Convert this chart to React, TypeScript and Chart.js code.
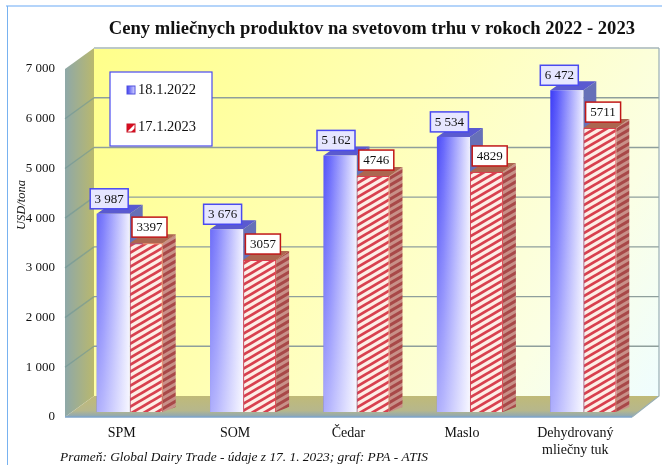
import React, { useEffect, useRef } from "react";
import { Chart, registerables } from "chart.js";

Chart.register(...registerables);

const categories: (string | string[])[] = ["SPM", "SOM", "Čedar", "Maslo", ["Dehydrovaný", "mliečny tuk"]];
const values2022 = [3987, 3676, 5162, 5534, 6472];
const values2023 = [3397, 3057, 4746, 4829, 5711];
const seriesNames = ["18.1.2022", "17.1.2023"];
const yTicks = [0, 1000, 2000, 3000, 4000, 5000, 6000, 7000];
const titleText = "Ceny mliečnych produktov na svetovom trhu v rokoch 2022 - 2023";
const yTitle = "USD/tona";
const sourceText = "Prameň: Global Dairy Trade - údaje z 17. 1. 2023; graf: PPA - ATIS";

const SERIF = "'Liberation Serif', 'Times New Roman', serif";
const WALL_DX = 29;
const WALL_DY = -21;
const BAR_DX = 8;
const BAR_DY = -5;
const SIDE_DX = 13;
const SIDE_DY = -9;

const spaced = (v: number) => String(v).replace(/\B(?=(\d{3})+$)/g, " ");

function hatch(bg: string, fg: string, lw: number): CanvasPattern {
  const tile = document.createElement("canvas");
  tile.width = 12;
  tile.height = 7;
  const t = tile.getContext("2d")!;
  t.fillStyle = bg;
  t.fillRect(0, 0, 12, 7);
  t.strokeStyle = fg;
  t.lineWidth = lw;
  for (let c = -7; c <= 21; c += 7) {
    t.beginPath();
    t.moveTo(-12, c + 7);
    t.lineTo(24, c - 14);
    t.stroke();
  }
  return t.createPattern(tile, "repeat")!;
}

function poly(ctx: CanvasRenderingContext2D, pts: number[][], fill: any) {
  ctx.beginPath();
  pts.forEach(([x, y], i) => (i ? ctx.lineTo(x, y) : ctx.moveTo(x, y)));
  ctx.closePath();
  ctx.fillStyle = fill;
  ctx.fill();
}

function drawDepth(ctx: CanvasRenderingContext2D, meta: any, side: any, cap: any) {
  meta.data.forEach((bar: any) => {
    const r = bar.x + bar.width / 2;
    const l = bar.x - bar.width / 2;
    poly(ctx, [[r, bar.y], [r + SIDE_DX, bar.y + SIDE_DY], [r + SIDE_DX, bar.base + SIDE_DY + 4], [r, bar.base]], side);
    poly(ctx, [[l, bar.y], [l + SIDE_DX, bar.y + SIDE_DY], [r + SIDE_DX, bar.y + SIDE_DY], [r, bar.y]], cap);
  });
}

const scene = {
  id: "scene",
  afterLayout(chart: any) {
    if (chart.titleBlock) {
      chart.titleBlock.left += 3;
      chart.titleBlock.right += 3;
    }
  },
  beforeDraw(chart: any) {
    const ctx: CanvasRenderingContext2D = chart.ctx;
    const { left, right, top, bottom } = chart.chartArea;
    const y = chart.scales.y;
    const bl = left + WALL_DX;
    const br = right + WALL_DX - 2;
    const bt = top + WALL_DY;
    const bb = bottom + WALL_DY;
    ctx.save();
    // outer frame
    ctx.fillStyle = "#b4d4fa";
    ctx.fillRect(6, 5, 656, 2);
    ctx.fillStyle = "#78b2f0";
    ctx.fillRect(7, 6, 1, 459);

    // back wall
    const back = ctx.createLinearGradient(bl, bt, br, bb);
    back.addColorStop(0, "#ffff8a");
    back.addColorStop(0.45, "#ffffb8");
    back.addColorStop(0.8, "#fbffe4");
    back.addColorStop(1, "#effdff");
    ctx.fillStyle = back;
    ctx.fillRect(bl, bt, br - bl, bb - bt);

    // left wall
    const wall = ctx.createLinearGradient(left, 0, bl, 0);
    wall.addColorStop(0, "#8ea8a8");
    wall.addColorStop(1, "#b9b86e");
    poly(ctx, [[left, top], [bl, bt], [bl, bb], [left, bottom]], wall);

    // floor
    const floor = ctx.createLinearGradient(0, bb, 0, bottom);
    floor.addColorStop(0, "#c0ba78");
    floor.addColorStop(0.7, "#b6b78c");
    floor.addColorStop(1, "#8aa6b8");
    poly(ctx, [[left, bottom], [bl, bb], [br, bb], [right, bottom]], floor);

    // gridlines
    yTicks.forEach((v) => {
      if (v === 0) return;
      const py = y.getPixelForValue(v);
      ctx.lineWidth = v === 7000 ? 2 : 1.4;
      ctx.strokeStyle = v === 7000 ? "#bcc8c8" : "#8f9f9c";
      ctx.beginPath();
      ctx.moveTo(bl, py + WALL_DY);
      ctx.lineTo(br, py + WALL_DY);
      ctx.stroke();
      if (v !== 7000) {
        ctx.strokeStyle = "rgba(110,150,150,0.6)";
        ctx.beginPath();
        ctx.moveTo(left, py);
        ctx.lineTo(bl, py + WALL_DY);
        ctx.stroke();
      }
    });
    ctx.strokeStyle = "#98aeb4";
    ctx.lineWidth = 1.2;
    ctx.beginPath();
    ctx.moveTo(br, bt);
    ctx.lineTo(br, bb);
    ctx.lineTo(right, bottom);
    ctx.stroke();
    ctx.strokeStyle = "#7fa4c8";
    ctx.lineWidth = 1.5;
    ctx.beginPath();
    ctx.moveTo(left, bottom);
    ctx.lineTo(right, bottom);
    ctx.stroke();
    ctx.restore();
  },
  beforeDatasetsDraw(chart: any) {
    chart.ctx.save();
    chart.ctx.translate(BAR_DX, BAR_DY);
  },
  beforeDatasetDraw(chart: any, args: any) {
    // Datasets paint last-to-first: the red one goes down first, so both depth faces are laid here.
    if (args.index !== 1) return;
    const ctx: CanvasRenderingContext2D = chart.ctx;
    drawDepth(ctx, chart.getDatasetMeta(0), "#6670b8", "#5a5ad0");
    drawDepth(ctx, args.meta, hatch("#c89088", "#a84848", 3), "#ac6650");
  },
  afterDatasetDraw(chart: any, args: any) {
    if (args.index !== 0) return;
    const ctx: CanvasRenderingContext2D = chart.ctx;
    const { top, bottom } = chart.chartArea;
    const g = ctx.createLinearGradient(0, top, 0, bottom);
    g.addColorStop(0, "rgba(255,255,255,0)");
    g.addColorStop(1, "rgba(255,255,255,0.6)");
    ctx.fillStyle = g;
    args.meta.data.forEach((bar: any) => {
      ctx.fillRect(bar.x - bar.width / 2, bar.y, bar.width, bar.base - bar.y);
    });
  },
  afterDatasetsDraw(chart: any) {
    const ctx: CanvasRenderingContext2D = chart.ctx;
    ctx.restore();
    ctx.save();
    ctx.textAlign = "center";
    ctx.textBaseline = "middle";
    ctx.font = `13px ${SERIF}`;
    ctx.lineWidth = 1.5;
    chart.data.datasets.forEach((ds: any, di: number) => {
      chart.getDatasetMeta(di).data.forEach((bar: any, i: number) => {
        const blue = di === 0;
        const w = blue ? 38 : 35;
        const h = 20;
        const shift = blue ? (i === 4 ? -7.5 : -4) : 3.3;
        const cx = bar.x + BAR_DX + shift;
        const by = bar.y + BAR_DY - (blue ? 5 : 6);
        ctx.fillStyle = blue ? "#e6e6ff" : "#ffffff";
        ctx.strokeStyle = blue ? "#4a4af0" : "#c01818";
        ctx.fillRect(cx - w / 2, by - h, w, h);
        ctx.strokeRect(cx - w / 2, by - h, w, h);
        ctx.fillStyle = "#111";
        ctx.fillText(blue ? spaced(ds.data[i]) : String(ds.data[i]), cx, by - h / 2 + 0.5);
      });
    });

    // legend
    ctx.fillStyle = "#fff";
    ctx.fillRect(110, 72, 102, 74);
    ctx.strokeStyle = "#4a4af0";
    ctx.lineWidth = 1.2;
    ctx.strokeRect(110, 72, 102, 74);
    const sw = ctx.createLinearGradient(127, 0, 135, 0);
    sw.addColorStop(0, "#4040f0");
    sw.addColorStop(1, "#d8d8ff");
    ctx.fillStyle = sw;
    ctx.fillRect(127, 86, 8, 8);
    ctx.strokeStyle = "#5050e0";
    ctx.lineWidth = 1;
    ctx.strokeRect(127, 86, 8, 8);
    ctx.fillStyle = "#fff";
    ctx.fillRect(127, 124, 8, 8);
    poly(ctx, [[127, 124], [135, 124], [127, 132]], "#d80c20");
    poly(ctx, [[135, 128], [135, 132], [131, 132]], "#d80c20");
    ctx.strokeStyle = "#c81020";
    ctx.strokeRect(127, 124, 8, 8);
    ctx.fillStyle = "#111";
    ctx.textAlign = "left";
    ctx.font = `14.5px ${SERIF}`;
    ctx.fillText(seriesNames[0], 138, 90);
    ctx.fillText(seriesNames[1], 138, 127.5);

    // axis title
    ctx.save();
    ctx.translate(21.5, 205);
    ctx.rotate(-Math.PI / 2);
    ctx.textAlign = "center";
    ctx.font = `italic 12.5px ${SERIF}`;
    ctx.fillText(yTitle, 0, 0);
    ctx.restore();

    // source note
    ctx.textAlign = "left";
    ctx.font = `italic 13.4px ${SERIF}`;
    ctx.fillText(sourceText, 60, 457);
    ctx.restore();
  },
};

export default function App() {
  const ref = useRef<HTMLCanvasElement>(null);
  useEffect(() => {
    document.body.style.margin = "0";
    const canvas = ref.current!;
    const redHatch = hatch("#fdeee6", "#d8404e", 2.8);
    const chart = new Chart(canvas, {
      type: "bar",
      plugins: [scene],
      data: {
        labels: categories as any,
        datasets: [
          {
            label: seriesNames[0],
            data: values2022,
            clip: false as any,
            backgroundColor: (c: any) => {
              const sc = c.chart.scales.x;
              const center = sc && typeof c.dataIndex === "number" ? sc.getPixelForValue(c.dataIndex) : NaN;
              if (!Number.isFinite(center)) return "#6060ff";
              const g = c.chart.ctx.createLinearGradient(center - 33, 0, center, 0);
              g.addColorStop(0, "#3232f6");
              g.addColorStop(0.2, "#5050fb");
              g.addColorStop(1, "#ececff");
              return g;
            },
          },
          {
            label: seriesNames[1],
            data: values2023,
            clip: false as any,
            backgroundColor: redHatch,
            borderColor: "#d8404e",
            borderWidth: 1,
          },
        ],
      },
      options: {
        animation: false,
        responsive: false,
        layout: { padding: { left: 0, top: 0, right: 30, bottom: 0 } },
        datasets: { bar: { categoryPercentage: 0.582, barPercentage: 1 } },
        plugins: {
          legend: { display: false },
          tooltip: { enabled: false },
          title: {
            display: true,
            text: titleText,
            align: "end",
            color: "#111",
            font: { family: SERIF, size: 18.6, weight: "bold" },
            padding: { top: 18, bottom: 28.7 },
          },
        },
        scales: {
          x: {
            grid: { display: false, drawTicks: false },
            border: { display: false },
            ticks: { color: "#111", padding: 8, maxRotation: 0, font: { family: SERIF, size: 14 } },
            afterFit: (s: any) => { s.height = 48; },
          },
          y: {
            min: 0,
            max: 7000,
            grid: { display: false, drawTicks: false },
            border: { display: false },
            afterFit: (s: any) => { s.width = 65; },
            ticks: {
              stepSize: 1000,
              color: "#111",
              padding: 10,
              font: { family: SERIF, size: 13 },
              callback: (v: any) => spaced(Number(v)),
            },
          },
        },
      } as any,
    });
    return () => chart.destroy();
  }, []);
  return <canvas ref={ref} width={662} height={465} style={{ display: "block" }} />;
}
